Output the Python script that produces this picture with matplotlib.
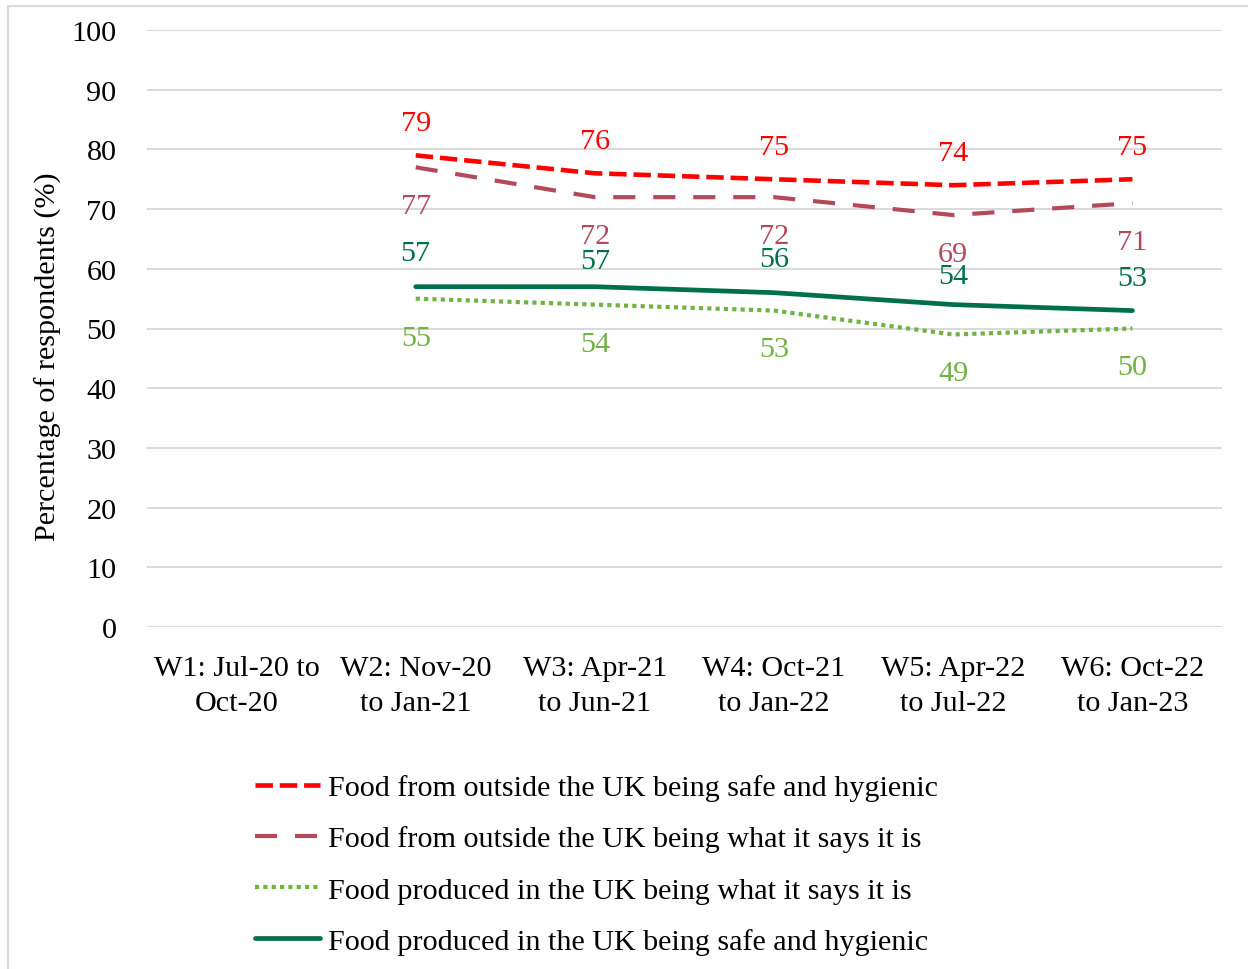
import numpy as np
import matplotlib
matplotlib.use('Agg')
import matplotlib.pyplot as plt
from matplotlib.patches import Rectangle

# font settings
plt.rcParams['font.family'] = ['Liberation Serif', 'DejaVu Serif']
FS = 21.7

# Data
waves = ['W1: Jul-20 to\nOct-20', 'W2: Nov-20\nto Jan-21', 'W3: Apr-21\nto Jun-21',
         'W4: Oct-21\nto Jan-22', 'W5: Apr-22\nto Jul-22', 'W6: Oct-22\nto Jan-23']
outside_safe = [np.nan, 79, 76, 75, 74, 75]
outside_says = [np.nan, 77, 72, 72, 69, 71]
uk_says = [np.nan, 55, 54, 53, 49, 50]
uk_safe = [np.nan, 57, 57, 56, 54, 53]
labels = ['Food from outside the UK being safe and hygienic',
          'Food from outside the UK being what it says it is',
          'Food produced in the UK being what it says it is',
          'Food produced in the UK being safe and hygienic']
yticks = list(range(0, 101, 10))

RED = '#FF0000'
ROSE = '#B24A5B'
LGREEN = '#70B244'
DGREEN = '#006F4C'

# data label vertical offsets (points), per series / per point
label_dy = [
    [23] * 6,
    [-28] * 6,
    [-28] * 6,
    [24.5, 24.5, 18.7, 24.5, 20.9, 23.8],
]

fig = plt.figure(figsize=(12.48, 9.70), dpi=100)
ax = fig.add_axes([147/1248, 1 - 628/970, 1075/1248, 597/970])

x = np.arange(len(waves))
# (values, color, linewidth, dashes)
series = [
    (outside_safe, RED, 3.3, (3.8, 1.5)),
    (outside_says, ROSE, 3.0, (5.3, 4.3)),
    (uk_says, LGREEN, 3.0, (1, 1)),
    (uk_safe, DGREEN, 3.4, None),
]
handles = []
for (vals, col, lw, dash), lab, dys in zip(series, labels, label_dy):
    if dash is None:
        h, = ax.plot(x, vals, color=col, lw=lw, solid_capstyle='round', label=lab)
    else:
        h, = ax.plot(x, vals, color=col, lw=lw, dashes=dash, dash_capstyle='butt', label=lab)
    handles.append(h)
    for xi, v, dy in zip(x, vals, dys):
        if np.isnan(v):
            continue
        ax.annotate(f'{v:.0f}', (xi, v), xytext=(0, dy), textcoords='offset points',
                    ha='center', va='center', color=col, fontsize=FS)

ax.set_xlim(-0.5, len(waves) - 0.5)
ax.set_ylim(0, 100)
ax.set_yticks(yticks)
ax.set_xticks(x)
ax.set_xticklabels(waves, fontsize=FS, linespacing=1.45)
ax.tick_params(axis='y', labelsize=FS, length=0, pad=22)
ax.tick_params(axis='x', length=0, pad=20)
ax.grid(axis='y', color='#D9D9D9', lw=1.4)
ax.set_axisbelow(True)
for s in ax.spines.values():
    s.set_visible(False)

fig.text(48/1248, 1 - 357/970, 'Percentage of respondents (%)', rotation=90,
         ha='center', va='center', fontsize=FS)

leg = fig.legend(handles=handles, loc='upper left', bbox_to_anchor=(255/1248, 1 - 775/970),
                 frameon=False, fontsize=FS, handlelength=2.16, handletextpad=0.27,
                 labelspacing=0.8, borderpad=0, borderaxespad=0)

# chart area border
fig.patches.append(Rectangle((8/1248, -0.01), 1.02, 1 - 7/970 + 0.01, transform=fig.transFigure,
                             fill=False, edgecolor='#D9D9D9', lw=1.5))

fig.savefig('out.png', dpi=100)
